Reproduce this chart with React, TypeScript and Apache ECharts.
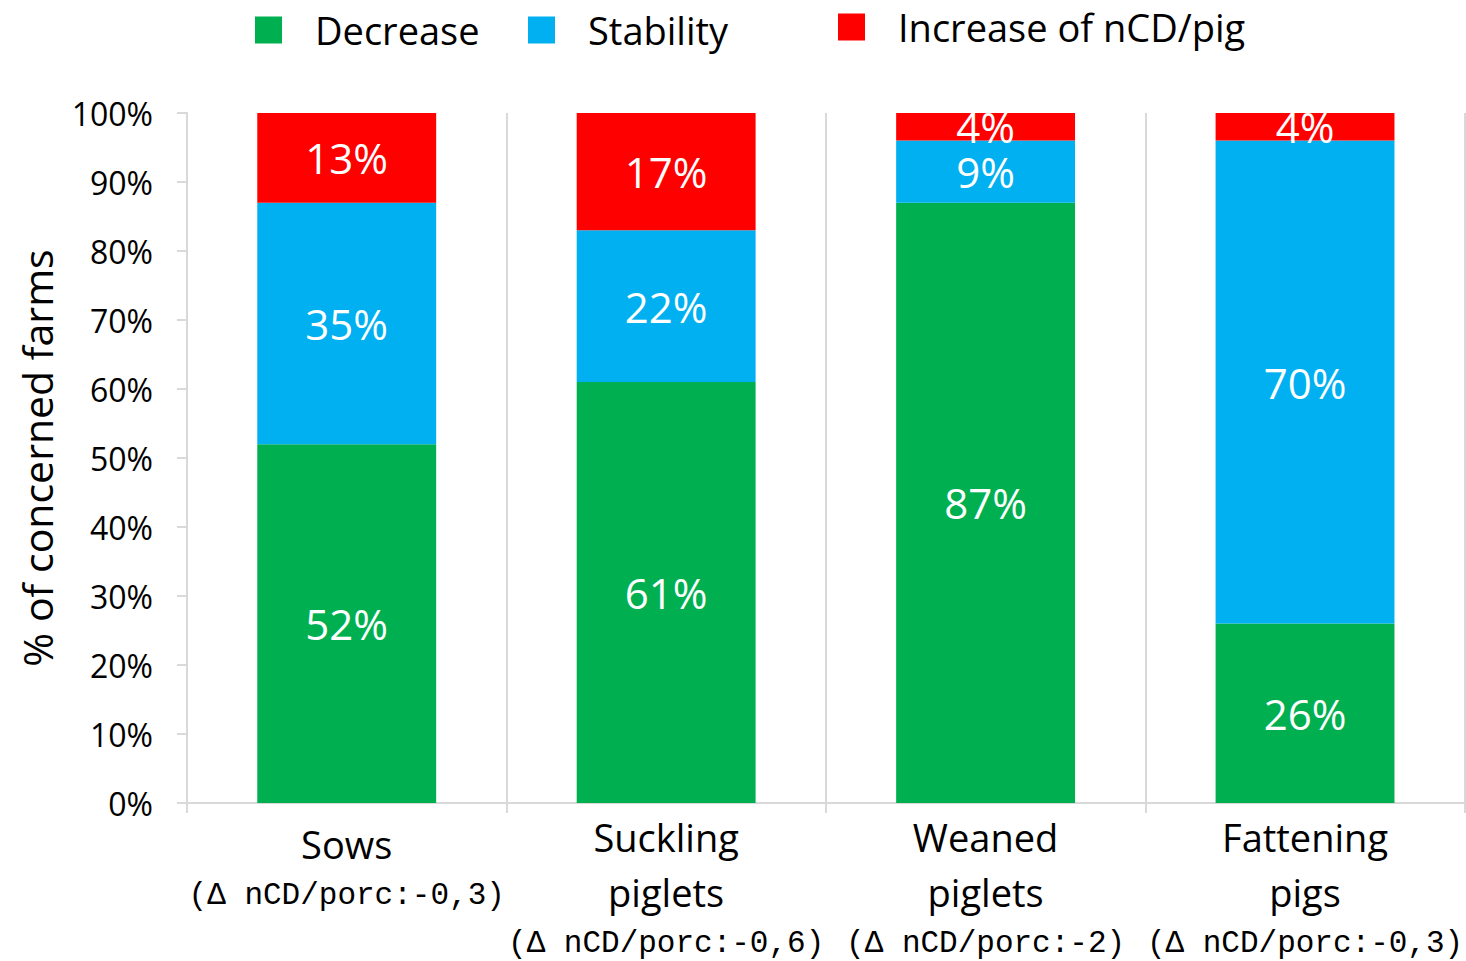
import React, { useEffect, useRef } from 'react';
import * as echarts from 'echarts';

const categories = ['Sows', 'Suckling\npiglets', 'Weaned\npiglets', 'Fattening\npigs'];
const deltas = ['(Δ nCD/porc:-0,3)', '(Δ nCD/porc:-0,6)', '(Δ nCD/porc:-2)', '(Δ nCD/porc:-0,3)'];
const seriesNames = ['Decrease', 'Stability', 'Increase of nCD/pig'];
const decrease = [52, 61, 87, 26];
const stability = [35, 22, 9, 70];
const increase = [13, 17, 4, 4];
const yMin = 0;
const yMax = 100;
const yInterval = 10;

const GREEN = '#00B050';
const BLUE = '#00B0F0';
const RED = '#FF0000';
const GRAY = '#D9D9D9';
const FONT = 'Open Sans';

export default function App() {
  const ref = useRef<HTMLDivElement>(null);
  useEffect(() => {
    if (!ref.current) return;
    const chart = echarts.init(ref.current, null, { renderer: 'svg' });
    const barLabel = {
      show: true,
      position: 'inside',
      formatter: '{c}%',
      color: '#fff',
      fontFamily: FONT,
      fontSize: 42,
    };
    const legendBase = {
      itemWidth: 27,
      itemHeight: 27,
      icon: 'rect',
      padding: 0,
      textStyle: { fontFamily: FONT, fontSize: 38, color: '#000', padding: [0, 0, 0, 28] },
    };
    chart.setOption({
      animation: false,
      textStyle: { fontFamily: FONT },
      legend: [
        { ...legendBase, data: [seriesNames[0]], left: 255, top: 11 },
        { ...legendBase, data: [seriesNames[1]], left: 528, top: 11 },
        { ...legendBase, data: [seriesNames[2]], left: 838, top: 8 },
      ],
      grid: { left: 187, right: 0, top: 113, bottom: 158, containLabel: false },
      xAxis: {
        type: 'category',
        data: categories.map((c, i) =>
          i === 0 ? { value: c, textStyle: { padding: [7, 0, 0, 0] } } : c
        ),
        axisLine: { show: true, lineStyle: { color: GRAY, width: 2 } },
        axisTick: { show: true, length: 10, lineStyle: { color: GRAY, width: 2 } },
        splitLine: { show: true, lineStyle: { color: GRAY, width: 2 } },
        axisLabel: {
          interval: 0,
          margin: 6,
          color: '#000',
          formatter: (value: string, index: number) =>
            value.split('\n').map((s) => `{a|${s}}`).join('\n') + `\n{b|${deltas[index]}}`,
          rich: {
            a: { fontFamily: FONT, fontSize: 38, lineHeight: 55, color: '#000' },
            b: { fontFamily: 'Liberation Mono', fontSize: 31, lineHeight: 48, color: '#000' },
          },
        },
      },
      yAxis: {
        type: 'value',
        min: yMin,
        max: yMax,
        interval: yInterval,
        name: '% of concerned farms',
        nameLocation: 'middle',
        nameGap: 130,
        nameTextStyle: { fontFamily: FONT, fontSize: 41, color: '#000' },
        axisLine: { show: true, lineStyle: { color: GRAY, width: 2 } },
        axisTick: { show: true, length: 10, lineStyle: { color: GRAY, width: 2 } },
        splitLine: { show: false },
        axisLabel: {
          formatter: '{value}%',
          color: '#000',
          fontFamily: FONT,
          fontSize: 32,
          margin: 34,
        },
      },
      series: [
        { name: seriesNames[0], type: 'bar', stack: 'total', barWidth: '56%', data: decrease, itemStyle: { color: GREEN }, label: barLabel },
        { name: seriesNames[1], type: 'bar', stack: 'total', barWidth: '56%', data: stability, itemStyle: { color: BLUE }, label: barLabel },
        { name: seriesNames[2], type: 'bar', stack: 'total', barWidth: '56%', data: increase, itemStyle: { color: RED }, label: barLabel },
      ],
    });
    return () => chart.dispose();
  }, []);
  return (
    <div
      ref={ref}
      style={{ position: 'fixed', left: 0, top: 0, width: 1466, height: 961, background: '#fff' }}
    />
  );
}
